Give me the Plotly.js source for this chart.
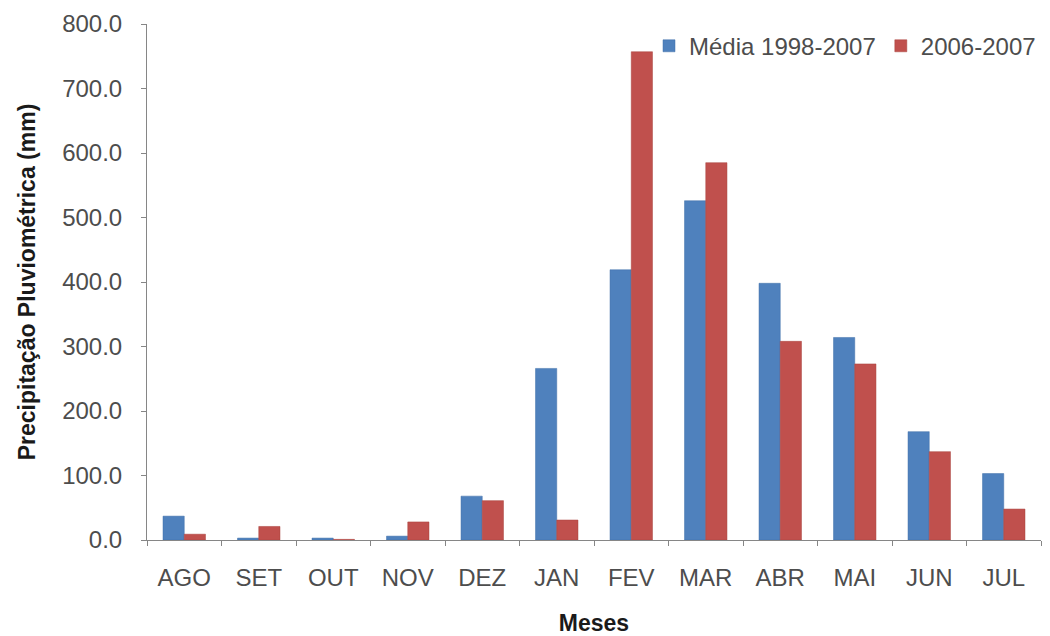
<!DOCTYPE html>
<html>
<head>
<meta charset="utf-8">
<script src="https://cdn.plot.ly/plotly-3.0.1.min.js"></script>
<style>html,body{margin:0;padding:0;background:#fff}#chart{width:1050px;height:636px}</style>
</head>
<body>
<div id="chart"></div>
<script>
const months = ["AGO","SET","OUT","NOV","DEZ","JAN","FEV","MAR","ABR","MAI","JUN","JUL"];
const media19982007 = [37, 3, 3, 6, 68, 266, 419, 526, 398, 314, 168, 103];
const ano20062007 = [9, 21, 1, 28, 61, 31, 757, 585, 308, 273, 137, 48];
const seriesNames = ["Média 1998-2007", "2006-2007"];

const data = [
  {type:"bar", x: months, y: media19982007, name: seriesNames[0],
   marker:{color:"#4F81BD", line:{color:"#3f6fa8", width:0.5}}},
  {type:"bar", x: months, y: ano20062007, name: seriesNames[1],
   marker:{color:"#C0504D", line:{color:"#a8403d", width:0.5}}}
];

const layout = {
  width:1050, height:636,
  margin:{l:147, r:9, t:24, b:96},
  paper_bgcolor:"#fff", plot_bgcolor:"#fff",
  font:{family:"Liberation Sans, Arial, sans-serif", color:"#4d4d4d", size:24},
  barmode:"group", bargap:0.43, bargroupgap:0,
  showlegend:true,
  legend:{orientation:"h", x:1.0, xanchor:"right", y:0.957, yanchor:"middle",
          font:{size:24, color:"#4d4d4d"}, itemwidth:30, traceorder:"normal",
          bgcolor:"rgba(0,0,0,0)"},
  xaxis:{type:"category", showline:true, linecolor:"#868686", linewidth:1,
         ticks:"outside", ticklen:5, tickcolor:"#868686", tickson:"boundaries",
         ticklabelstandoff:16,
         showgrid:false, zeroline:false,
         tickfont:{size:24, color:"#4d4d4d"},
         title:{text:"<b>Meses</b>", font:{size:23, color:"#1a1a1a"}, standoff:27}},
  yaxis:{range:[0,800], dtick:100, tickformat:".1f", showline:true,
         linecolor:"#868686", linewidth:1, ticks:"outside", ticklen:5,
         tickcolor:"#868686", ticklabelstandoff:14, showgrid:false, zeroline:false,
         tickfont:{size:24, color:"#4d4d4d"},
         title:{text:"<b>Precipitação Pluviométrica (mm)</b>", font:{size:23, color:"#1a1a1a"}, standoff:20}}
};

Plotly.newPlot("chart", data, layout, {displayModeBar:false, staticPlot:true});
</script>
</body>
</html>
